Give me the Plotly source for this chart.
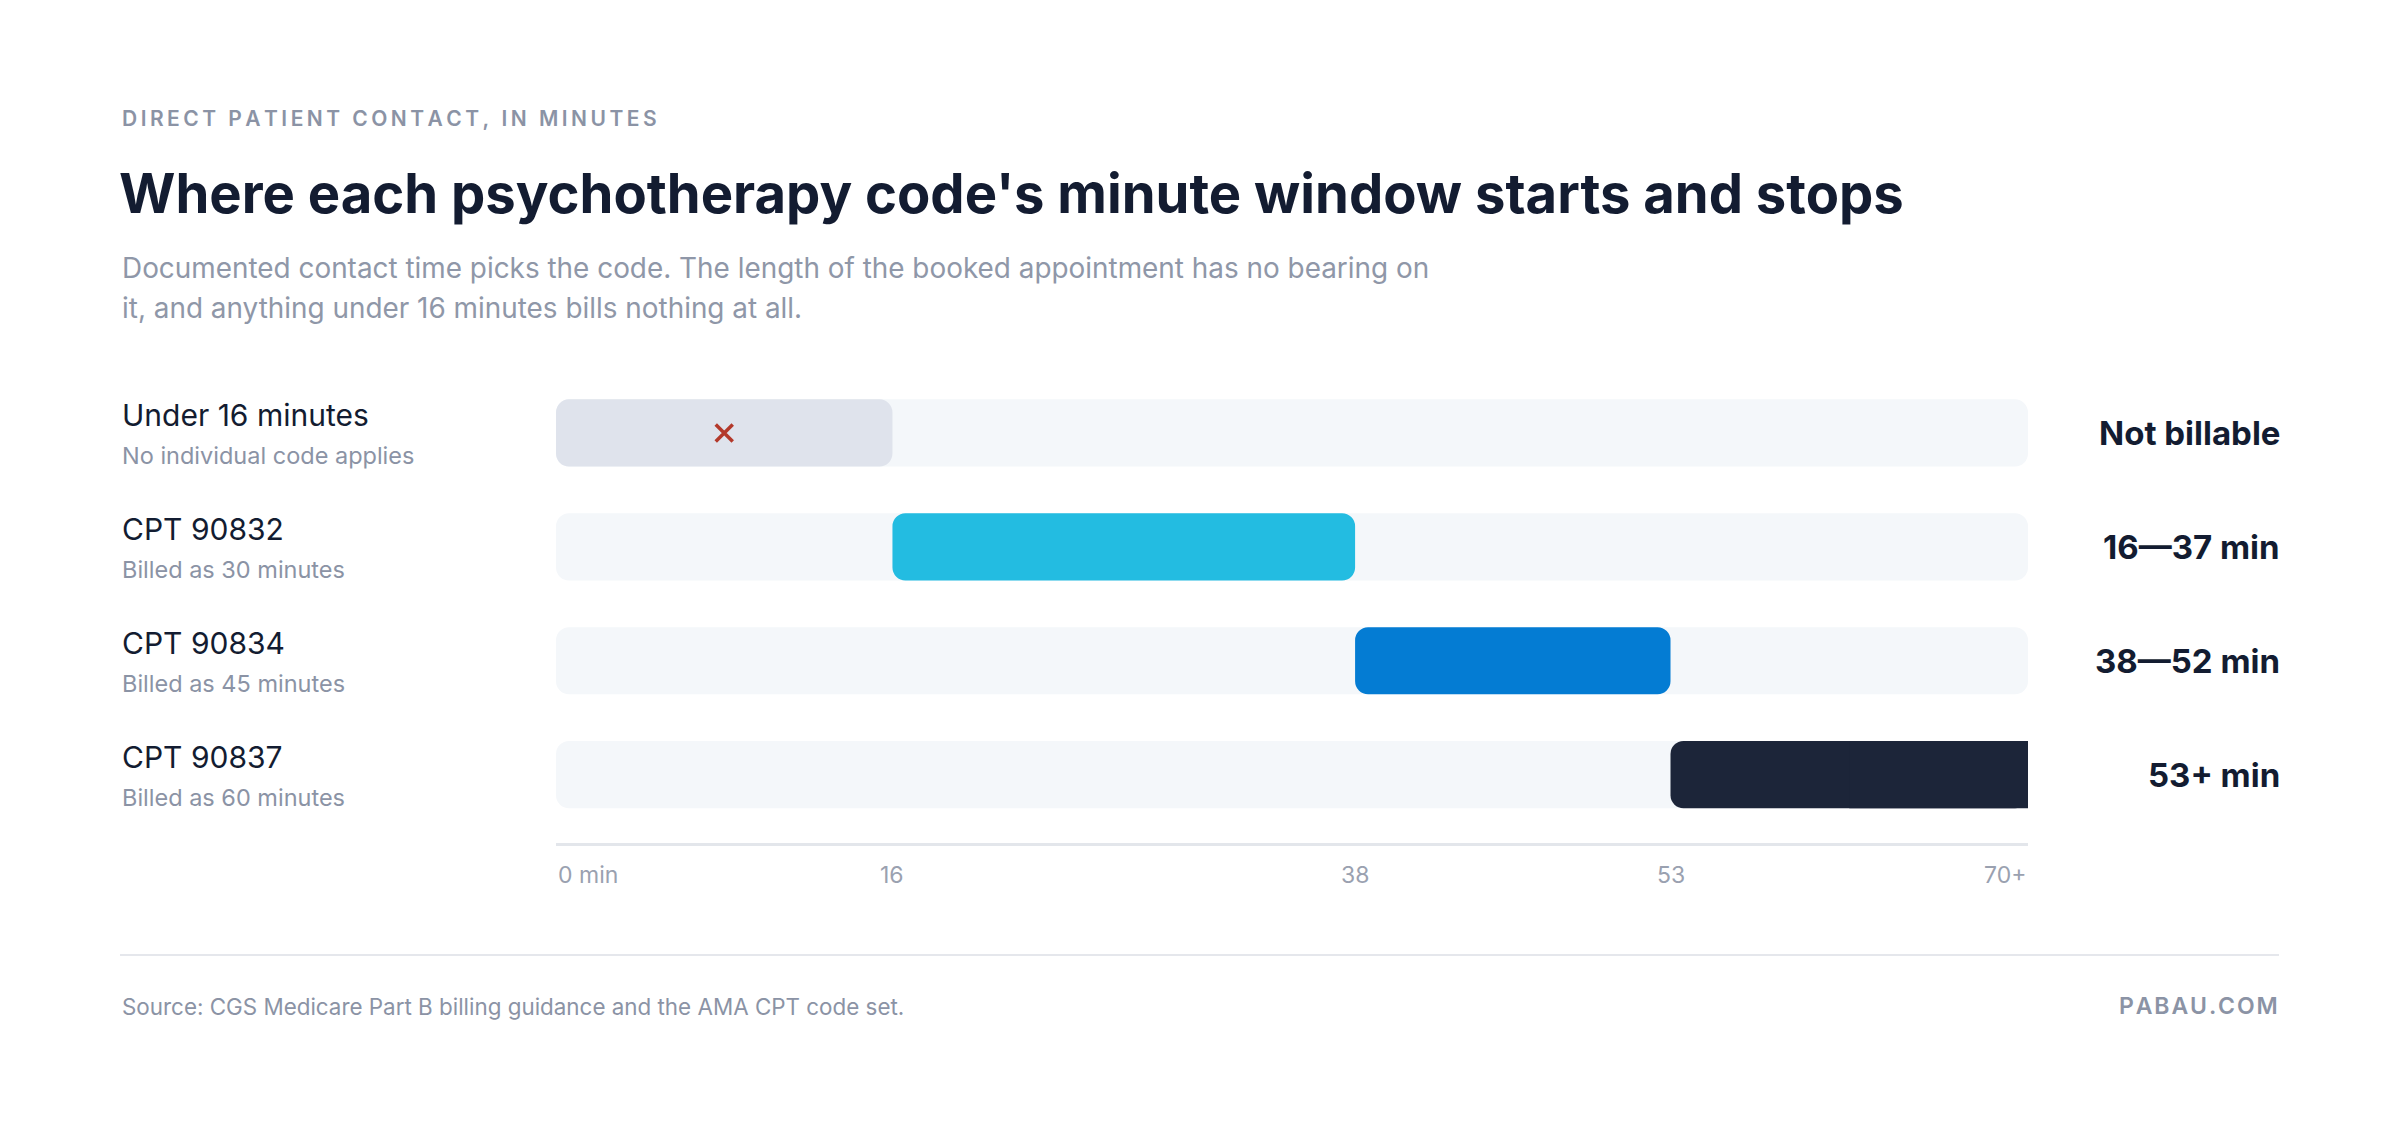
import plotly.graph_objects as go

# ---------------- data ----------------
row_titles = ["Under 16 minutes", "CPT 90832", "CPT 90834", "CPT 90837"]
row_notes = ["No individual code applies", "Billed as 30 minutes", "Billed as 45 minutes", "Billed as 60 minutes"]
window_start = [0, 16, 38, 53]
window_end = [16, 38, 53, 70]
range_labels = ["Not billable", "16\u201437 min", "38\u201452 min", "53+ min"]
axis_max = 70
tick_values = [0, 16, 38, 53, 70]
tick_labels = ["0 min", "16", "38", "53", "70+"]
bar_colors = ["#dfe3ec", "#23bce1", "#047cd3", "#1c2539"]

# ---------------- layout geometry (page pixels; page body has an 8px margin) ----------------
OFF = 8
W, H = 2400 - 2 * OFF, 1138 - 2 * OFF
PL, PR, PT, PB = 556 - OFF, 2028 - OFF, 376 - OFF, 843 - OFF
FONT = "Inter"
DARK = "#131c31"
GRAY = "#8b93a5"


def fx(p):
    return (p - OFF - PL) / (PR - PL)


def fy(p):
    return (PB - (p - OFF)) / (PB - PT)


def spaced(s, n=2):
    return ("\u200a" * n).join(list(s))


rows = list(range(len(row_titles)))
fig = go.Figure()

# background tracks
fig.add_trace(go.Bar(
    y=rows, x=[axis_max] * len(rows), base=[0] * len(rows), orientation="h",
    marker=dict(color="#f4f7fa", cornerradius=13, line=dict(width=0)),
    width=0.59, hoverinfo="skip", showlegend=False,
))
# code windows
fig.add_trace(go.Bar(
    y=rows, x=[e - s for s, e in zip(window_start, window_end)], base=window_start,
    orientation="h",
    marker=dict(color=bar_colors, cornerradius=13, line=dict(width=0)),
    width=0.59, hoverinfo="skip", showlegend=False,
))
# square off the open-ended last window at the axis end
last = len(rows) - 1
fig.add_trace(go.Bar(
    y=[rows[last]], x=[(window_end[last] - window_start[last]) / 2],
    base=[window_end[last] - (window_end[last] - window_start[last]) / 2],
    orientation="h",
    marker=dict(color=bar_colors[last], cornerradius=0, line=dict(width=0)),
    width=0.59, hoverinfo="skip", showlegend=False,
))
# not-billable cross mark
fig.add_trace(go.Scatter(
    x=[(window_start[0] + window_end[0]) / 2], y=[rows[0]], mode="markers",
    marker=dict(symbol="x-thin", size=17, line=dict(width=3.5, color="#b3392b")),
    hoverinfo="skip", showlegend=False,
))

annotations = []
# header
annotations.append(dict(text=spaced("DIRECT PATIENT CONTACT, IN MINUTES"), x=fx(120), y=fy(118),
                        xref="paper", yref="paper", xanchor="left", yanchor="middle", showarrow=False,
                        font=dict(family=FONT, size=21, color=GRAY, weight=600)))
annotations.append(dict(text="Where each psychotherapy code's minute window starts and stops",
                        x=fx(117), y=fy(193), xref="paper", yref="paper", xanchor="left", yanchor="middle",
                        showarrow=False, font=dict(family=FONT, size=54.4, color=DARK, weight=700)))
for i, line in enumerate(["Documented contact time picks the code. The length of the booked appointment has no bearing on",
                          "it, and anything under 16 minutes bills nothing at all."]):
    annotations.append(dict(text=line, x=fx(120), y=fy(268 + 40 * i), xref="paper", yref="paper",
                            xanchor="left", yanchor="middle", showarrow=False,
                            font=dict(family=FONT, size=27.9, color="#8f97a8")))

# row labels
for r, t, n, lab in zip(rows, row_titles, row_notes, range_labels):
    annotations.append(dict(text=t, x=fx(120), y=r, xref="paper", yref="y", xanchor="left",
                            yanchor="middle", yshift=18, showarrow=False,
                            font=dict(family=FONT, size=30, color=DARK)))
    annotations.append(dict(text=n, x=fx(120), y=r, xref="paper", yref="y", xanchor="left",
                            yanchor="middle", yshift=-23, showarrow=False,
                            font=dict(family=FONT, size=23.5, color=GRAY)))
    annotations.append(dict(text=lab, x=fx(2282), y=r, xref="paper", yref="y", xanchor="right",
                            yanchor="middle", showarrow=False,
                            font=dict(family=FONT, size=33, color=DARK, weight=700)))

# axis tick labels
for v, lab in zip(tick_values, tick_labels):
    anchor = "left" if v == tick_values[0] else ("right" if v == tick_values[-1] else "center")
    annotations.append(dict(text=lab, x=v, y=fy(875), xref="x", yref="paper", xanchor=anchor,
                            yanchor="middle", showarrow=False,
                            font=dict(family=FONT, size=23, color="#9aa1b0")))

# footer
annotations.append(dict(text="Source: CGS Medicare Part B billing guidance and the AMA CPT code set.",
                        x=fx(120), y=fy(1006), xref="paper", yref="paper", xanchor="left", yanchor="middle",
                        showarrow=False, font=dict(family=FONT, size=22.4, color=GRAY)))
annotations.append(dict(text=spaced("PABAU.COM", 1), x=fx(2280), y=fy(1006), xref="paper", yref="paper",
                        xanchor="right", yanchor="middle", showarrow=False,
                        font=dict(family=FONT, size=23, color=GRAY, weight=600)))

fig.update_layout(
    width=W, height=H,
    margin=dict(l=PL, r=W - PR, t=PT, b=H - PB, pad=0),
    paper_bgcolor="white", plot_bgcolor="white",
    barmode="overlay", showlegend=False,
    annotations=annotations,
    shapes=[dict(type="line", xref="paper", yref="paper", x0=fx(120), x1=fx(2279), y0=fy(955), y1=fy(955),
                 line=dict(color="#e5e7ec", width=2))],
    xaxis=dict(range=[0, axis_max], showgrid=False, zeroline=False, showticklabels=False, ticks="",
               showline=True, linecolor="#e3e6eb", linewidth=3, fixedrange=True),
    yaxis=dict(range=[3.6, -0.5], showgrid=False, zeroline=False, showticklabels=False, ticks="",
               showline=False, fixedrange=True),
)

fig.write_html("out.html")
